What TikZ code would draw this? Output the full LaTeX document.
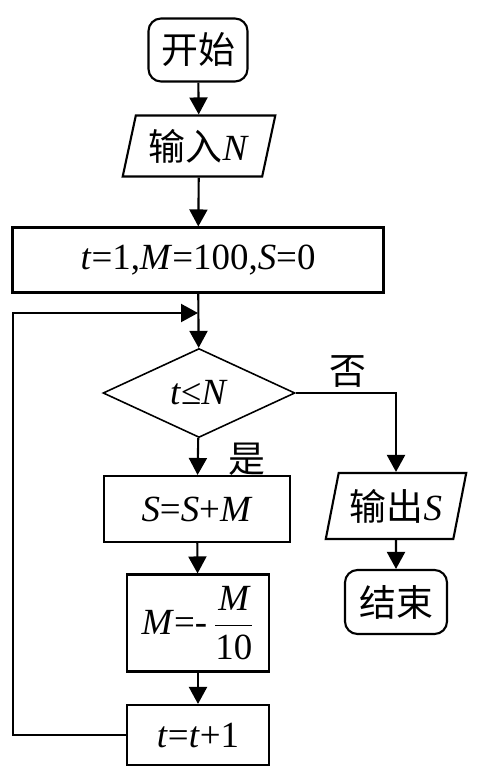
\documentclass[tikz,border=0pt]{standalone}
\usepackage{fontspec}
\usepackage{amsmath}
\setmainfont{Liberation Serif}
\newfontfamily\cjk{Noto Sans CJK SC}
\usetikzlibrary{shapes.geometric,arrows.meta}

\newcommand\mainsize{\fontsize{21}{25}\selectfont}
\newcommand\lw{1.2pt}

\tikzset{
  every node/.style={font=\mainsize},
  box/.style={draw,line width=\lw,inner sep=0pt},
  terminal/.style={box,rounded corners=0.25cm},
  iobox/.style={box,trapezium,trapezium left angle=73,trapezium right angle=107,trapezium stretches=true},
  test/.style={box,diamond,line width=0.9pt},
  flow/.style={line width=\lw,-{Triangle[width=0.36cm,length=0.34cm]}},
}

\begin{document}
\begin{tikzpicture}[x=0.02cm,y=-0.02cm]
    \useasboundingbox (0,0) rectangle (485,777);

    % main column
    \node[terminal,minimum width=1.98cm,minimum height=1.26cm] (start) at (198,50) {\cjk 开始};
    \node[iobox,minimum width=3.06cm,minimum height=1.22cm] (input) at (199,146) {{\cjk 输入}\textit{N}};
    \node[box,minimum width=7.42cm,minimum height=1.3cm] (init) at (198,260) {\textit{t}=1,\textit{M}=100,\textit{S}=0};
    \coordinate (join) at (198,313);
    \node[test,minimum width=3.84cm,minimum height=1.78cm] (cond) at (199,393) {\textit{t}≤\textit{N}};
    \node[box,minimum width=3.72cm,minimum height=1.32cm] (add) at (197,509) {\textit{S}=\textit{S}+\textit{M}};
    \node[box,minimum width=2.84cm,minimum height=1.94cm] (div) at (198,623) {\textit{M}=-\,$\dfrac{\text{\itshape M}}{\text{10}}$};
    \node[box,minimum width=2.84cm,minimum height=1.2cm] (inc) at (198,735) {\textit{t}=\textit{t}+1};

    % right column
    \node[iobox,minimum width=2.82cm,minimum height=1.32cm] (output) at (396,506) {{\cjk 输出}\textit{S}};
    \node[terminal,minimum width=2.04cm,minimum height=1.28cm] (finish) at (396,602) {\cjk 结束};

    \node (yes) at (247,459) {\cjk 是};
    \node (no) at (348,372) {\cjk 否};

    \draw[flow] (start) -- (input);
    \draw[flow] (input) -- (init);
    \draw[flow] (init) -- (cond);
    \draw[flow] (cond) -- (add);
    \draw[flow] (add) -- (div);
    \draw[flow] (div) -- (inc);
    \draw[flow] (inc.west) -| (13,313) -- (join);
    \draw[flow] (cond.east) -| (output);
    \draw[flow] (output) -- (finish);
\end{tikzpicture}
\end{document}
